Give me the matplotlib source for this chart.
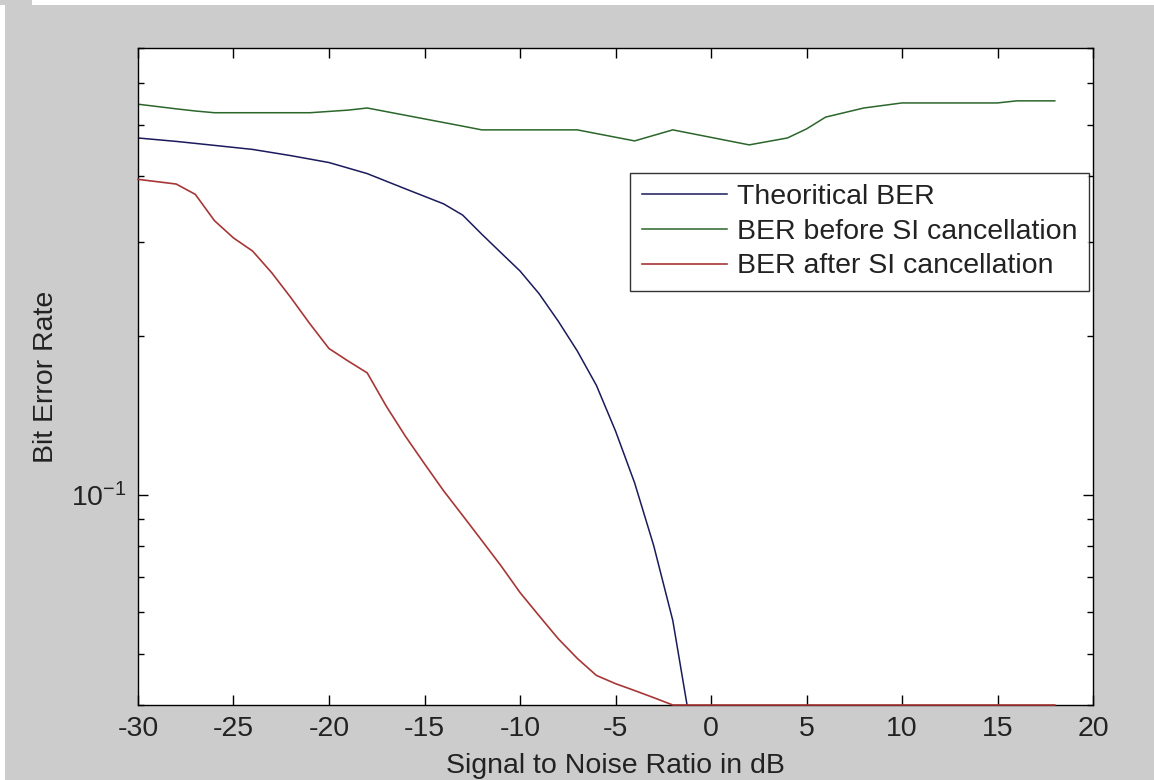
import numpy as np
import matplotlib
matplotlib.use("Agg")
import matplotlib.pyplot as plt
from matplotlib.patches import Rectangle
from matplotlib.ticker import NullFormatter, LogLocator

plt.rcParams['font.family'] = ['Liberation Sans', 'DejaVu Sans']
plt.rcParams['mathtext.default'] = 'regular'
plt.rcParams['axes.unicode_minus'] = False

# Theoritical BER (clipped below 0.04 by the axis)
snr_theory = [-30, -28, -26, -24, -22, -20, -18, -16, -14, -13, -12, -11, -10,
              -9, -8, -7, -6, -5, -4, -3, -2, -1]
ber_theory = [0.473, 0.466, 0.458, 0.450, 0.438, 0.425, 0.405, 0.379, 0.355,
              0.338, 0.311, 0.287, 0.265, 0.240, 0.213, 0.187, 0.161, 0.132,
              0.1053, 0.0801, 0.0578, 0.0353]

# BER before SI cancellation
snr_before = [-30, -28, -27, -26, -21, -19, -18, -13, -12, -7, -4, -2, 2, 4,
              5, 6, 8, 10, 15, 16, 18]
ber_before = [0.548, 0.537, 0.532, 0.528, 0.528, 0.534, 0.539, 0.498, 0.490,
              0.490, 0.467, 0.490, 0.459, 0.473, 0.492, 0.518, 0.539, 0.551,
              0.551, 0.556, 0.556]

# BER after SI cancellation
snr_after = [-30, -29, -28, -27, -26, -25, -24, -23, -22, -21, -20, -19, -18,
             -17, -16, -15, -14, -13, -12, -11, -10, -9, -8, -7, -6, -5, -4,
             -3, -2, 0, 2, 4, 6, 8, 10, 12, 14, 16, 18]
ber_after = [0.395, 0.391, 0.387, 0.370, 0.330, 0.306, 0.289, 0.263, 0.236,
             0.2105, 0.189, 0.179, 0.170, 0.147, 0.129, 0.1144, 0.1017, 0.0913,
             0.0819, 0.0734, 0.0653, 0.059, 0.0534, 0.049, 0.0455, 0.0439,
             0.0426, 0.0413, 0.04, 0.04, 0.04, 0.04, 0.04, 0.04, 0.04, 0.04,
             0.04, 0.04, 0.04]

fs = 20.5

fig = plt.figure(figsize=(11.54, 7.80), dpi=100, facecolor='#cccccc')
# white screenshot border at the top and left
fig.add_artist(Rectangle((0, 1 - 5 / 780), 1, 5 / 780, transform=fig.transFigure,
                         facecolor='white', edgecolor='none'))
fig.add_artist(Rectangle((0, 0), 5 / 1154, 1, transform=fig.transFigure,
                         facecolor='white', edgecolor='none'))
fig.add_artist(Rectangle((0, 1 - 5 / 780), 32 / 1154, 5 / 780, transform=fig.transFigure,
                         facecolor='#cccccc', edgecolor='none'))

ax = fig.add_axes([138 / 1154, 1 - 705 / 780, 955 / 1154, 657 / 780])
ax.set_facecolor('white')

ax.plot(snr_theory, ber_theory, color='#1a1a5c', lw=1.1, label='Theoritical BER')
ax.plot(snr_before, ber_before, color='#2b662b', lw=1.1, label='BER before SI cancellation')
ax.plot(snr_after, ber_after, color='#a83636', lw=1.2, label='BER after SI cancellation',
        clip_on=False, zorder=3)

ax.set_yscale('log')
ax.set_xlim(-30, 20)
ax.set_ylim(0.04, 0.7)
ax.set_xticks(np.arange(-30, 21, 5))
ax.yaxis.set_major_locator(LogLocator(base=10))
ax.yaxis.set_minor_locator(LogLocator(base=10, subs=np.arange(2, 10)))
ax.yaxis.set_minor_formatter(NullFormatter())

ax.tick_params(which='both', direction='in', top=True, right=True,
               labelsize=fs, colors='black', labelcolor='#222222')
ax.tick_params(which='major', length=7, width=1, pad=8)
ax.tick_params(which='minor', length=4.5, width=1)
for s in ax.spines.values():
    s.set_linewidth(1.0)
    s.set_color('black')

ax.set_xlabel('Signal to Noise Ratio in dB', fontsize=fs, color='#222222', labelpad=8)
ax.set_ylabel('Bit Error Rate', fontsize=fs, color='#222222', labelpad=9)

leg = ax.legend(loc='upper right', bbox_to_anchor=(0.9958, 0.8097), borderaxespad=0,
                fontsize=fs, frameon=True, fancybox=False, handlelength=3.0,
                handletextpad=0.35, labelspacing=0.3, borderpad=0.4)
leg.get_frame().set_edgecolor('black')
leg.get_frame().set_linewidth(1.0)
for t in leg.get_texts():
    t.set_color('#222222')

fig.savefig('out.png', dpi=100, facecolor=fig.get_facecolor())
